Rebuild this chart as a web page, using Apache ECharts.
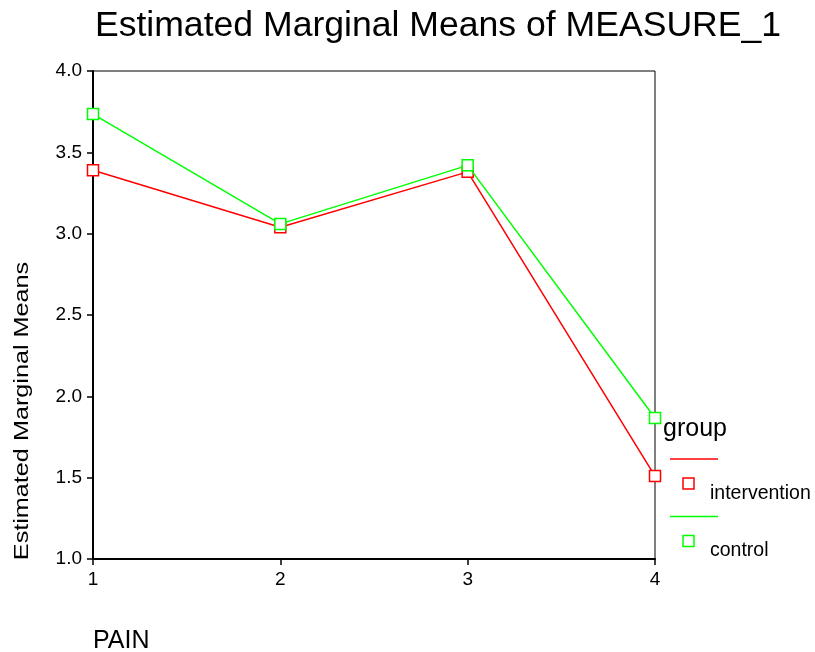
<!DOCTYPE html>
<html>
<head>
<meta charset="utf-8">
<script src="https://cdn.jsdelivr.net/npm/echarts@6/dist/echarts.min.js"></script>
<style>html,body{margin:0;padding:0;background:#fff}#c{width:815px;height:652px}</style>
</head>
<body>
<div id="c"></div>
<script>
var pain = [1, 2, 3, 4];
var intervention = [3.39, 3.04, 3.38, 1.51];
var control = [3.735, 3.06, 3.42, 1.867];
var seriesNames = ['intervention', 'control'];
var seriesColors = ['#ff0000', '#00ff00'];
var yTicks = [1.0, 1.5, 2.0, 2.5, 3.0, 3.5, 4.0];

var FONT = 'Liberation Sans, Arial, sans-serif';
var chart = echarts.init(document.getElementById('c'));

function pairs(vals) { return pain.map(function (p, i) { return [p, vals[i]]; }); }
var seriesData = [intervention, control];

var legendGraphics = [{
  type: 'text', x: 663, y: 429,
  style: { text: 'group', font: '25px ' + FONT, fill: '#000', verticalAlign: 'middle' }
}];
seriesNames.forEach(function (n, i) {
  var y0 = 459 + i * 57.5;
  legendGraphics.push({ type: 'line', shape: { x1: 670, y1: y0, x2: 718, y2: y0 }, style: { stroke: seriesColors[i], lineWidth: 1.5 } });
  legendGraphics.push({ type: 'rect', shape: { x: 683, y: y0 + 19, width: 11, height: 11 }, style: { fill: 'none', stroke: seriesColors[i], lineWidth: 1.5 } });
  legendGraphics.push({ type: 'text', x: 710, y: y0 + 34.5, style: { text: n, font: '19.5px ' + FONT, fill: '#000', verticalAlign: 'middle' } });
});

chart.setOption({
  animation: false,
  backgroundColor: '#fff',
  graphic: legendGraphics.concat([
    { type: 'text', x: 438, y: 26, style: { text: 'Estimated Marginal Means of MEASURE_1', font: '35.6px ' + FONT, fill: '#000', align: 'center', verticalAlign: 'middle' } },
    { type: 'text', x: 22, y: 411, rotation: Math.PI / 2, scaleX: 1.2,
      style: { text: 'Estimated Marginal Means', font: '21px ' + FONT, fill: '#000', align: 'center', verticalAlign: 'middle' } },
    { type: 'text', x: 93, y: 641, style: { text: 'PAIN', font: '25px ' + FONT, fill: '#000', verticalAlign: 'middle' } }
  ]),
  grid: { left: 93, right: 160, top: 71, bottom: 93, show: true, borderColor: '#000', borderWidth: 1, backgroundColor: 'transparent' },
  xAxis: {
    type: 'value', min: 1, max: 4, interval: 1,
    axisLine: { lineStyle: { color: '#000', width: 2 } },
    axisTick: { length: 6, lineStyle: { color: '#000', width: 1.5 } },
    axisLabel: { color: '#000', fontFamily: FONT, fontSize: 19, margin: 11 },
    splitLine: { show: false }
  },
  yAxis: {
    type: 'value', min: yTicks[0], max: yTicks[yTicks.length - 1], interval: 0.5,
    axisLine: { show: true, lineStyle: { color: '#000', width: 2 } },
    axisTick: { show: true, length: 6, lineStyle: { color: '#000', width: 1.5 } },
    axisLabel: { color: '#000', fontFamily: FONT, fontSize: 19, margin: 11, formatter: function (v) { return v.toFixed(1); } },
    splitLine: { show: false }
  },
  series: seriesNames.map(function (n, i) {
    return {
      name: n, type: 'line', data: pairs(seriesData[i]),
      symbol: 'rect', symbolSize: 11, showSymbol: true,
      lineStyle: { color: seriesColors[i], width: 1.5 },
      itemStyle: { color: '#fff', borderColor: seriesColors[i], borderWidth: 1.5 },
      z: 3 + i
    };
  })
});
</script>
</body>
</html>
